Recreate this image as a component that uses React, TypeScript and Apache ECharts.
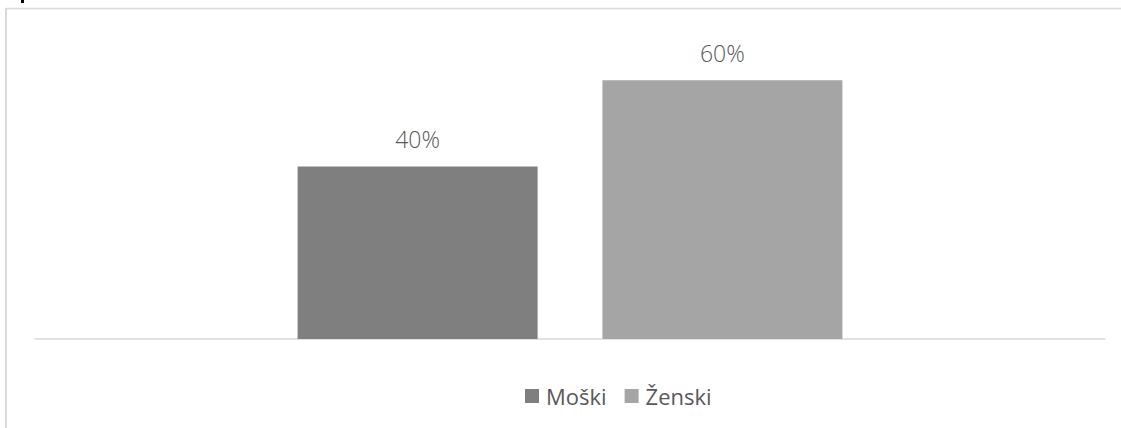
import React, { useEffect, useRef } from "react";
import * as echarts from "echarts";

const categories = [""];
const seriesNames = ["Moški", "Ženski"];
const moskiValues = [40];
const zenskiValues = [60];
const seriesColors = ["#7f7f7f", "#a5a5a5"];

export default function App() {
  const ref = useRef<HTMLDivElement>(null);
  useEffect(() => {
    document.body.style.margin = "0";
    const chart = echarts.init(ref.current!, null, { renderer: "svg" });
    const font = "'Open Sans', 'Noto Sans', sans-serif";
    const label = {
      show: true,
      position: "top" as const,
      distance: 16,
      formatter: (p: any) => `${p.value}%`,
      fontFamily: font,
      fontSize: 23,
      fontWeight: 300,
      color: "#595959",
    };
    chart.setOption({
      animation: false,
      backgroundColor: "#ffffff",
      graphic: [
        { type: "line", shape: { x1: 6, y1: 8.5, x2: 1121, y2: 8.5 }, style: { stroke: "#d9d9d9", lineWidth: 1.5 } },
        { type: "line", shape: { x1: 6, y1: 8, x2: 6, y2: 428 }, style: { stroke: "#d9d9d9", lineWidth: 2 } },
        { type: "rect", shape: { x: 21, y: 0, width: 3, height: 3 }, style: { fill: "#000000" } },
      ],
      grid: { left: 35, right: 16, top: 37, bottom: 428 - 339, containLabel: false },
      legend: {
        data: seriesNames,
        left: 525,
        top: 385,
        padding: 0,
        itemWidth: 14,
        itemHeight: 14,
        itemGap: 18,
        icon: "rect",
        textStyle: { fontFamily: font, fontSize: 22, color: "#595959", padding: [0, 0, 0, 2] },
      },
      xAxis: {
        type: "category",
        data: categories,
        axisTick: { show: false },
        axisLabel: { show: false },
        axisLine: { lineStyle: { color: "#d9d9d9", width: 1.5 } },
      },
      yAxis: { type: "value", min: 0, max: 70, show: false, splitLine: { show: false } },
      series: [
        { name: seriesNames[0], type: "bar", data: moskiValues, barWidth: 240, barGap: "27%", itemStyle: { color: seriesColors[0] }, label },
        { name: seriesNames[1], type: "bar", data: zenskiValues, barWidth: 240, barGap: "27%", itemStyle: { color: seriesColors[1] }, label },
      ],
    });
    return () => chart.dispose();
  }, []);
  return <div ref={ref} style={{ width: 1121, height: 428 }} />;
}
